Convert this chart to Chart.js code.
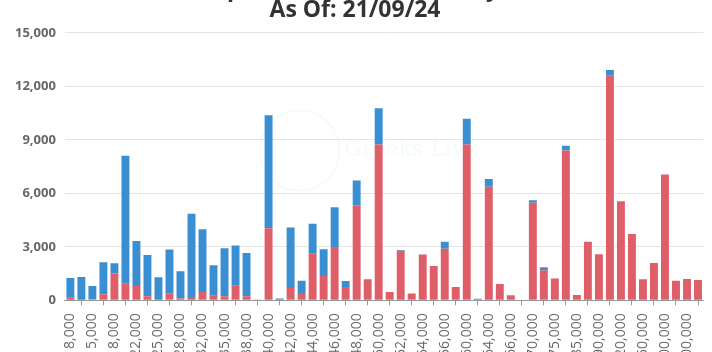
<!DOCTYPE html>
<html>
<head>
<meta charset="utf-8">
<script src="https://cdn.jsdelivr.net/npm/chart.js@4"></script>
<style>
  html, body { margin: 0; padding: 0; background: #fff; overflow: hidden; }
  #wrap { position: absolute; left: 0; top: -28px; width: 712px; height: 401px; }
</style>
</head>
<body>
<div id="wrap"><canvas id="myChart"></canvas></div>
<script>
// strike prices (every other one gets a label on the axis)
const strikes = [
  "8,000", "10,000", "15,000", "16,000", "18,000", "20,000", "22,000", "24,000",
  "25,000", "26,000", "28,000", "30,000", "32,000", "34,000", "35,000", "36,000",
  "38,000", "39,000", "40,000", "41,000", "42,000", "43,000", "44,000", "45,000",
  "46,000", "47,000", "48,000", "49,000", "50,000", "51,000", "52,000", "53,000",
  "54,000", "55,000", "56,000", "58,000", "60,000", "62,000", "64,000", "65,000",
  "66,000", "68,000", "70,000", "72,000", "75,000", "80,000", "85,000", "88,000",
  "90,000", "100,000", "120,000", "140,000", "150,000", "180,000", "200,000",
  "250,000", "300,000", "400,000"
];

const calls = [
  150, 30, 60, 340, 1500, 935, 805, 225, 30, 375,
  110, 190, 470, 260, 225, 825, 225, 0, 4045, 0,
  690, 410, 2620, 1365, 2995, 750, 5337, 1180, 8745, 470,
  2780, 390, 2565, 1930, 2900, 750, 8745, 80, 6370, 920,
  280, 40, 5470, 1685, 1220, 8410, 300, 3280, 2585, 12600,
  5560, 3725, 1180, 2100, 7060, 1105, 1200, 1140
];

const puts = [
  1100, 1280, 745, 1795, 580, 7175, 2530, 2325, 1260, 2470,
  1520, 4660, 3520, 1705, 2695, 2245, 2435, 50, 6330, 110,
  3395, 695, 1670, 1500, 2230, 335, 1380, 0, 2025, 0,
  40, 0, 0, 0, 380, 0, 1445, 15, 430, 0,
  0, 0, 150, 170, 0, 260, 0, 0, 0, 320,
  0, 0, 0, 0, 0, 0, 0, 0
];

const yTicks = [0, 3000, 6000, 9000, 12000, 15000];

const font = "'Open Sans', 'Noto Sans', sans-serif";

// faint watermark in the middle of the plot
const watermark = {
  id: "watermark",
  beforeDatasetsDraw(chart) {
    const c = chart.ctx;
    const a = chart.chartArea;
    const cx = a.left + (a.right - a.left) * 0.43;
    const cy = a.top + (a.bottom - a.top) * 0.44;
    c.save();
    c.strokeStyle = "rgba(120,200,180,0.07)";
    c.lineWidth = 2;
    c.beginPath();
    c.arc(cx - 40, cy, 40, 0, Math.PI * 2);
    c.stroke();
    c.fillStyle = "rgba(120,200,180,0.07)";
    c.font = "22px 'DejaVu Serif', serif";
    c.textBaseline = "middle";
    c.fillText("Greeks.Live", cx + 5, cy);
    c.restore();
  }
};

new Chart(document.getElementById("myChart"), {
  type: "bar",
  data: {
    labels: strikes,
    datasets: [
      { label: "Calls", data: calls, backgroundColor: "#df5f68", borderWidth: 0 },
      { label: "Puts", data: puts, backgroundColor: "#3a8fd2", borderWidth: 0 }
    ]
  },
  options: {
    responsive: true,
    maintainAspectRatio: false,
    animation: false,
    layout: { padding: { left: 6, right: 8, top: 0, bottom: 0 } },
    plugins: {
      legend: { display: false },
      tooltip: { enabled: false },
      title: {
        display: true,
        text: ["Deribit BTC Options Open Interest By Strike Price", "As Of: 21/09/24"],
        color: "#333",
        font: { family: font, size: 23, weight: "bold", lineHeight: 0.9 },
        padding: { top: 7.5, bottom: 12 }
      }
    },
    scales: {
      x: {
        stacked: true,
        grid: { drawOnChartArea: false, drawTicks: true, tickLength: 5, color: "#999" },
        border: { display: true, color: "#999" },
        ticks: {
          color: "#666",
          font: { family: font, size: 14 },
          minRotation: 90,
          maxRotation: 90,
          padding: 8
        }
      },
      y: {
        stacked: true,
        min: 0,
        max: 15000,
        afterBuildTicks: axis => { axis.ticks = yTicks.map(v => ({ value: v })); },
        grid: { color: "#e5e5e5", drawTicks: false },
        border: { display: false },
        ticks: {
          color: "#666",
          padding: 9,
          font: { family: font, size: 13, weight: "bold" },
          callback: v => v.toLocaleString("en-US")
        }
      }
    }
  },
  plugins: [watermark]
});
</script>
</body>
</html>
